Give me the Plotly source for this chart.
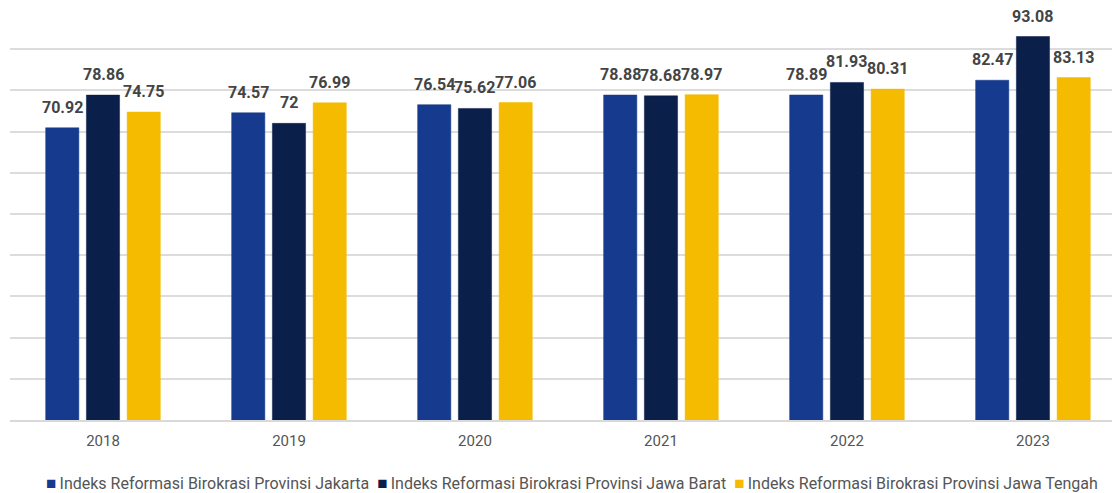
import plotly.graph_objects as go

years = ["2018", "2019", "2020", "2021", "2022", "2023"]
jakarta = [70.92, 74.57, 76.54, 78.88, 78.89, 82.47]
jawa_barat = [78.86, 72, 75.62, 78.68, 81.93, 93.08]
jawa_tengah = [74.75, 76.99, 77.06, 78.97, 80.31, 83.13]

names = [
    "Indeks Reformasi Birokrasi Provinsi Jakarta",
    "Indeks Reformasi Birokrasi Provinsi Jawa Barat",
    "Indeks Reformasi Birokrasi Provinsi Jawa Tengah",
]
colors = ["#163a8e", "#0b1f4b", "#f5bb00"]
series = [jakarta, jawa_barat, jawa_tengah]

fig = go.Figure()
for name, vals, col in zip(names, series, colors):
    fig.add_trace(go.Bar(x=years, y=vals, name=name, marker_color=col,
                         marker_line=dict(color=col, width=0.5)))

# value labels above the bars (shifted to each bar of the group)
shifts = [-40.5, 0, 40.5]
for vals, dx in zip(series, shifts):
    for i, v in enumerate(vals):
        fig.add_annotation(x=i, y=v, text=f"{v:g}", showarrow=False,
                           xshift=dx, yshift=9, yanchor="bottom",
                           font=dict(family="Roboto", size=16, color="#444444", weight="bold"))

# compact legend drawn as text
legend_txt = "\u00a0\u00a0".join(
    f"<span style='color:{c};font-size:17px'>■</span>\u2009{n}" for n, c in zip(names, colors)
)
fig.add_annotation(xref="paper", yref="paper", x=0.5059, y=-0.153, xanchor="center",
                   yanchor="middle", text=legend_txt, showarrow=False,
                   font=dict(family="Roboto", size=16, color="#555555"))

# page body has an 8px margin, so the figure is a bit smaller than the window
fig.update_layout(
    width=1112, height=485,
    margin=dict(l=2, r=0, t=0, b=73),
    plot_bgcolor="white", paper_bgcolor="white",
    barmode="group", bargap=0.343, bargroupgap=0.185,
    font=dict(family="Roboto", color="#555555"),
    showlegend=False,
    xaxis=dict(type="category", range=[-0.5, 5.468], showline=True, linecolor="#d9d9d9",
               linewidth=2, ticks="", ticklabelstandoff=6,
               tickfont=dict(size=15, color="#555555")),
    yaxis=dict(range=[0, 100], dtick=10, showticklabels=False, gridcolor="#dcdcdc",
               gridwidth=2, zeroline=False),
)

fig.write_html("out.html")
